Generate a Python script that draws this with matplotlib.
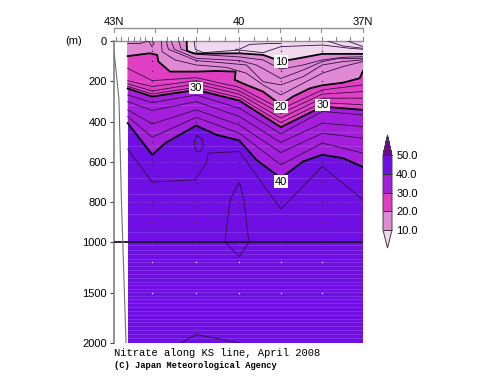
from matplotlib import pyplot as plt
from matplotlib.cm import ScalarMappable
from matplotlib.colors import BoundaryNorm, ListedColormap
import numpy as np

W, H = 500, 387

stations = [42.67, 42.08, 41.02, 39.98, 38.98, 37.98, 37.0]

# heavy contours (lat, depth)
c10_lat = [41.25, 41.24, 41.09, 40.9, 39.98, 39.41, 38.98, 38.69, 37.98, 37.0]
c10_dep = [0, 48, 61, 63, 61, 69, 100, 91, 64, 64]
c20_lat = [42.67, 42.14, 41.96, 41.93, 41.65, 41.02, 40.53, 40.07, 40.09, 39.81, 39.41, 38.98, 38.69, 38.28, 37.98, 37.48, 37.08, 37.0]
c20_dep = [75, 61, 69, 102, 152, 152, 149, 152, 193, 218, 251, 317, 276, 235, 220, 207, 185, 149]
c30_dep = [236, 276, 243, 296, 428, 326, 342]
c40_lat = [42.67, 42.08, 41.75, 41.02, 40.53, 39.98, 39.57, 38.98, 38.44, 37.98, 37.48, 37.0]
c40_dep = [408, 565, 505, 420, 466, 494, 590, 681, 598, 565, 582, 626]

# thin contours at the station positions
thin_station = {
  22: [136, 197, 182, 230, 339, 243, 218],
  24: [197, 226, 197, 248, 360, 264, 251],
  26: [213, 248, 213, 264, 383, 284, 284],
  28: [226, 263, 230, 281, 405, 306, 317],
  32: [268, 306, 268, 334, 461, 350, 367],
  34: [301, 345, 301, 375, 504, 408, 425],
  36: [342, 412, 342, 417, 554, 458, 483],
  38: [375, 478, 379, 458, 615, 507, 557],
}

# thin contours with their own positions
thin_lat = [
  [41.44, 41.38, 41.02, 39.98, 39.41, 38.98, 38.44, 37.98, 37.48, 37.0],
  [41.62, 41.55, 41.02, 39.98, 39.57, 38.98, 38.44, 37.98, 37.57, 37.0],
  [41.74, 41.69, 41.02, 40.29, 39.81, 39.41, 38.98, 38.44, 37.98, 37.48, 37.0],
  [41.86, 41.84, 41.53, 41.02, 40.29, 39.81, 39.41, 38.98, 38.52, 37.98, 37.48, 37.0],
  [42.67, 42.37, 42.16],
  [42.16, 42.09, 42.03, 42.09],
  [41.07, 41.04, 40.85, 39.98, 39.41, 38.98, 37.98, 37.32, 37.0],
  [40.07, 39.98, 39.73, 39.2, 38.98],
  [37.85, 37.48, 37.0],
  [37.37, 37.0],
  [42.67, 42.08, 41.05, 40.77, 40.73, 39.98, 38.98, 37.98, 37.0],
  [41.0, 40.87, 40.85, 40.93, 41.03, 41.07, 41.0],
  [39.98, 40.2, 40.33, 39.98, 39.75, 39.87, 39.98],
  [41.39, 41.02, 39.98],
]
thin_dep = [
  [0, 41, 66, 79, 94, 140, 119, 94, 81, 78],
  [0, 41, 86, 97, 119, 186, 144, 102, 86, 88],
  [0, 41, 97, 110, 119, 202, 218, 177, 119, 102, 94],
  [0, 53, 94, 119, 131, 160, 218, 268, 218, 160, 127, 102],
  [12, 12, 0],
  [0, 28, 12, 0],
  [0, 41, 58, 45, 58, 28, 20, 36, 41],
  [41, 41, 17, 12, 12],
  [0, 25, 36],
  [0, 28],
  [537, 701, 689, 605, 557, 549, 835, 623, 788],
  [470, 490, 525, 550, 545, 500, 470],
  [702, 786, 997, 1141, 1000, 790, 702],
  [2000, 1915, 2000],
]

levels = [10, 20, 30, 40, 50]
colors = ["#f0d8ee", "#e08ad6", "#e03fc4", "#a31fdb", "#6f0fe3", "#6c0a8e"]
level_labels = ["10.0", "20.0", "30.0", "40.0", "50.0"]

depth_ticks = [0, 200, 400, 600, 800, 1000, 1500, 2000]
upper_ticks = [42.94, 42.82, 42.66, 42.52, 42.37, 42.25, 42.09, 41.73, 41.45, 41.33, 41.03, 40.71, 40.33, 39.98, 39.63, 39.31, 38.98, 38.65, 38.3, 37.98, 37.66, 37.32, 37.0]
degree_ticks = [43, 42, 41, 40, 39, 38, 37]
degree_labels = ["43N", "40", "37N"]
degree_label_lat = [43, 40, 37]

bottom_lat = [43, 42.88, 42.82, 42.71]
bottom_dep = [50, 290, 800, 2000]

obs_depth = [50, 100, 150, 200, 250, 300, 400, 500, 600, 700, 800, 900, 1000, 1200, 1500]
stripe_depth = [320, 450, 520, 680, 760, 860, 950, 1030, 1080, 1120, 1170, 1200, 1240, 1270, 1310, 1350, 1390, 1420, 1460, 1490, 1530, 1560, 1600, 1640, 1680, 1720, 1760, 1790, 1830, 1870, 1910, 1950]

label_pos = [(38.98, 102, "10"), (38.98, 326, "20"), (41.02, 235, "30"), (37.98, 317, "30"), (38.98, 698, "40")]


def to_pos(d):
  d = np.asarray(d, dtype=float)
  return np.where(d <= 1000, d, 1000 + (d - 1000) * 0.5)


def from_pos(p):
  p = np.asarray(p, dtype=float)
  return np.where(p <= 1000, p, 1000 + (p - 1000) * 2)


def fill_above(ax, lat, dep, color):
  xs = list(lat) + [37.0, lat[0]]
  ys = list(dep) + [0, 0]
  ax.fill(xs, ys, color=color, lw=0, zorder=1)


def main():
  plt.rcParams["font.family"] = ["Liberation Sans", "DejaVu Sans"]
  fig = plt.figure(figsize=(W / 100, H / 100), dpi=100)
  ax = fig.add_axes([114 / W, 1 - 343 / H, 249 / W, 302 / H])
  ax.set_yscale("function", functions=(to_pos, from_pos))
  ax.set_xlim(43, 37)
  ax.set_ylim(2000, 0)

  # painted from the deep side up
  ax.fill([42.67, 37, 37, 42.67], [0, 0, 2000, 2000], color=colors[4], lw=0, zorder=1)
  fill_above(ax, c40_lat, c40_dep, colors[3])
  fill_above(ax, stations, c30_dep, colors[2])
  fill_above(ax, c20_lat, c20_dep, colors[1])
  fill_above(ax, c10_lat, c10_dep, colors[0])

  for d in stripe_depth:
    ax.plot([42.67, 37], [d, d], color="#c9a0f5", lw=0.5, alpha=0.3, zorder=2)

  for dep in thin_station.values():
    ax.plot(stations, dep, color="#301040", lw=0.6, zorder=3)
  for lat, dep in zip(thin_lat, thin_dep):
    ax.plot(lat, dep, color="#301040", lw=0.6, zorder=3)

  ax.plot(c10_lat, c10_dep, color="black", lw=1.3, zorder=4)
  ax.plot(c20_lat, c20_dep, color="black", lw=1.3, zorder=4)
  ax.plot(stations, c30_dep, color="black", lw=1.3, zorder=4)
  ax.plot(c40_lat, c40_dep, color="black", lw=1.3, zorder=4)

  for s in stations[1:-1]:
    for d in obs_depth:
      c = "#f0e0ff" if d >= 1000 else "#402050"
      ax.plot([s], [d], marker="s", ms=0.9, mew=0, color=c, zorder=5, clip_on=False)
    ax.plot([s, s], [0, 45], color="#605070", lw=0.5, ls=":", zorder=5)

  for d in [200, 600, 800]:
    ax.plot([43, 37], [d, d], color="#c8b8d8", lw=0.4, ls=":", alpha=0.6, zorder=2)
  ax.plot([43, 37], [1000, 1000], color="#201030", lw=1.3, zorder=6)
  ax.plot(bottom_lat, bottom_dep, color="#707070", lw=0.8, zorder=6)

  for lat, d, s in label_pos:
    ax.text(lat, d, s, fontsize=8, ha="center", va="center", zorder=7,
            bbox=dict(facecolor="white", edgecolor="none", pad=0.8))

  for side in ["right", "bottom", "top"]:
    ax.spines[side].set_visible(False)
  ax.spines["left"].set_color("#808080")
  ax.spines["left"].set_linewidth(1.2)
  ax.set_xticks([])
  ax.set_yticks(depth_ticks)
  ax.set_yticklabels([str(d) for d in depth_ticks], fontsize=8)
  ax.yaxis.set_minor_locator(plt.NullLocator())
  ax.tick_params(axis="y", length=3, width=0.8, color="#404040", pad=2)

  # top scale sits above the section
  tx = ax.get_xaxis_transform()
  ax.plot([43, 37], [1.0 + 13 / 302] * 2, transform=tx, color="#909090", lw=1, clip_on=False)
  ax.plot([43, 37], [1.0, 1.0], transform=tx, color="#909090", lw=1, clip_on=False)
  for t in degree_ticks:
    ax.plot([t, t], [1.0 + 13 / 302, 1.0 + 9 / 302], transform=tx, color="#909090", lw=0.8, clip_on=False)
  for t in upper_ticks:
    ax.plot([t, t], [1.0, 1.0 + 4 / 302], transform=tx, color="#808080", lw=0.7, clip_on=False)
  for t, s in zip(degree_label_lat, degree_labels):
    ax.text(t, 1.0 + 19 / 302, s, transform=tx, fontsize=8, ha="center", va="center")
  fig.text(74 / W, 1 - 41 / H, "(m)", fontsize=8, ha="center", va="center")

  fig.text(114 / W, 1 - 353 / H, "Nitrate along KS line, April 2008", family="Liberation Mono", fontsize=7.6, va="center")
  fig.text(114 / W, 1 - 366 / H, "(C) Japan Meteorological Agency", family="Liberation Mono", fontsize=6.3, weight="bold", va="center")

  # colour bar, the axes includes the two end triangles
  cax = fig.add_axes([383 / W, 1 - 248 / H, 9 / W, 113 / H])
  cmap = ListedColormap(colors[1:5])
  cmap.set_under(colors[0])
  cmap.set_over(colors[5])
  sm = ScalarMappable(norm=BoundaryNorm(levels, 4), cmap=cmap)
  cb = fig.colorbar(sm, cax=cax, extend="both", extendfrac=(0.24, 0.27), drawedges=True, spacing="uniform")
  cb.set_ticks(levels)
  cb.set_ticklabels(level_labels)
  cb.ax.tick_params(labelsize=8, length=0, pad=3)
  cb.outline.set_edgecolor("#404040")
  cb.outline.set_linewidth(0.7)
  cb.dividers.set_color("#303030")
  cb.dividers.set_linewidth(0.7)

  fig.savefig("out.png", dpi=100)
  plt.close(fig)


if __name__ == "__main__":
  main()
